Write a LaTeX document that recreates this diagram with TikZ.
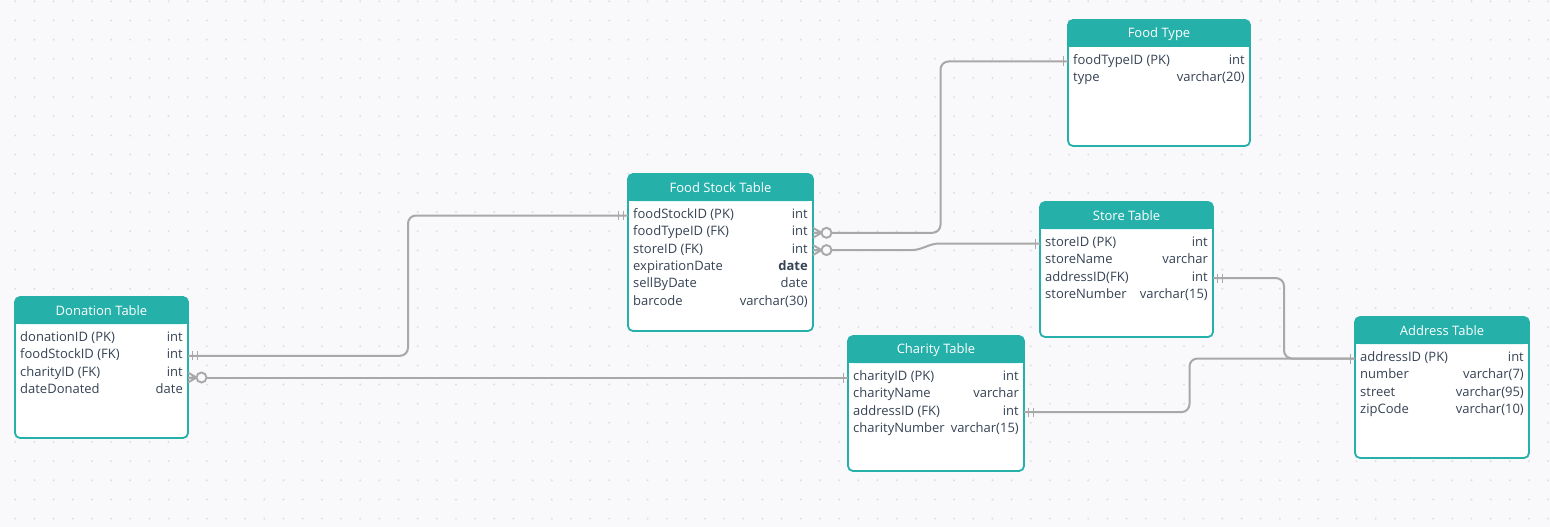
\documentclass[tikz,border=0pt]{standalone}
\usepackage{fontspec}
\setmainfont{Open Sans}
\usetikzlibrary{calc}
\definecolor{erteal}{HTML}{25B0AA}
\definecolor{linkgray}{HTML}{A8A8A8}
\definecolor{bgcol}{HTML}{F9F9FB}
\definecolor{dotcol}{HTML}{DEDEE4}
\definecolor{fieldcol}{HTML}{364354}
\tikzset{
	tablebox/.style={rectangle, inner sep=0pt, outer sep=0pt, anchor=north west},
	tableline/.style={draw=erteal, line width=1.8pt, rounded corners=5pt},
	headtext/.style={text=white, font=\fontsize{13}{15}\selectfont, inner sep=0pt},
	fieldtext/.style={text=fieldcol, font=\fontsize{13}{15}\selectfont, inner sep=0pt, text height=9pt, text depth=3pt},
	link/.style={draw=linkgray, line width=2pt, rounded corners=8pt},
	tick/.style={draw=linkgray, line width=1.9pt},
}
\newcommand{\ertable}[7]{%
	\node[tablebox, minimum width=#4pt, minimum height=#5pt] (#1) at (#2,#3) {};
	\fill[white, rounded corners=5pt] (#1.north west) rectangle (#1.south east);
	\fill[erteal, rounded corners=5pt] (#1.north west) rectangle ([yshift=-27pt]#1.north east);
	\fill[erteal] ([yshift=-12pt]#1.north west) rectangle ([yshift=-27pt]#1.north east);
	\draw[tableline] (#1.north west) rectangle (#1.south east);
	\node[headtext] (#1-head) at ([yshift=-14pt]#1.north) {#6};
	\foreach \fld/\typ [count=\i] in {#7} {
		\node[fieldtext, anchor=west] (#1-\i) at ([xshift=5pt, yshift={-41.5pt-(\i-1)*17.3pt}]#1.north west) {\fld};
		\node[fieldtext, anchor=east] (#1-\i-type) at ([xshift=-5pt, yshift={-41.5pt-(\i-1)*17.3pt}]#1.north east) {\typ};
	}
}
\newcommand{\barone}[2]{\begin{scope}[shift={(#1)}, xscale=#2] \draw[tick] (4.5,-5) -- (4.5,5); \end{scope}}
\newcommand{\bartwo}[2]{\begin{scope}[shift={(#1)}, xscale=#2] \draw[tick] (4.5,-4.5) -- (4.5,4.5) (9.5,-4.5) -- (9.5,4.5); \end{scope}}
\newcommand{\zeromany}[2]{\begin{scope}[shift={(#1)}, xscale=#2] \draw[tick] (0,-5) -- (8.5,0) -- (0,5) (0,0) -- (8.5,0); \draw[tick, fill=bgcol] (13.5,0) circle (5); \end{scope}}
\begin{document}
\begin{tikzpicture}[x=1pt, y=-1pt]
	\useasboundingbox (0,0) rectangle (1550,527);
	\fill[bgcol] (0,0) rectangle (1550,527);
	\foreach \i in {0,...,80}
		\foreach \j in {0,...,27}
			\fill[dotcol] (15.3+\i*19.16, 1.3+\j*19.16) circle (1.1);

	\ertable{ft}{1068}{20}{182}{126}{Food Type}{foodTypeID (PK)/int, type/varchar(20)}
	\ertable{fs}{628}{174}{185}{157}{Food Stock Table}{foodStockID (PK)/int, foodTypeID (FK)/int, storeID (FK)/int, expirationDate/\textbf{date}, sellByDate/date, barcode/varchar(30)}
	\ertable{st}{1040}{202}{173}{135}{Store Table}{storeID (PK)/int, storeName/varchar, addressID(FK)/int, storeNumber/varchar(15)}
	\ertable{dt}{15}{297}{173}{141}{Donation Table}{donationID (PK)/int, foodStockID (FK)/int, charityID (FK)/int, dateDonated/date}
	\ertable{ch}{848}{336}{176}{135}{Charity Table}{charityID (PK)/int, charityName/varchar, addressID (FK)/int, charityNumber/varchar(15)}
	\ertable{ad}{1355}{317}{174}{141}{Address Table}{addressID (PK)/int, number/varchar(7), street/varchar(95), zipCode/varchar(10)}

	\coordinate (dt-fs) at (dt.east |- dt-2);
	\coordinate (fs-dt) at (fs.west |- fs-1);
	\coordinate (dt-ch) at (dt.east |- ch-1);
	\coordinate (ch-dt) at (ch.west |- ch-1);
	\coordinate (fs-ft) at (fs.east |- fs-2);
	\coordinate (ft-fs) at (ft.west |- ft-1);
	\coordinate (fs-st) at (fs.east |- fs-3);
	\coordinate (st-fs) at (st.west |- st-1);
	\coordinate (st-ad) at (st.east |- st-3);
	\coordinate (ad-st) at (ad.west |- ad-1);
	\coordinate (ch-ad) at (ch.east |- ch-3);
	\coordinate (mid-st) at ($(fs-st)!.5!(st-fs)$);

	\draw[link] (dt-fs) -| ($(dt-fs)!.5!(fs-dt)$) |- (fs-dt);
	\draw[link] (dt-ch) -- (ch-dt);
	\draw[link] (fs-ft) -| ($(fs-ft)!.5!(ft-fs)$) |- (ft-fs);
	\draw[link, rounded corners=5pt] (fs-st) -- ($(mid-st |- fs-st)+(-10,0)$) -- ($(mid-st |- st-fs)+(8,0)$) -- (st-fs);
	\draw[link] (st-ad) -| ($(st-ad)!.5!(ad-st)$) |- (ad-st);
	\draw[link] (ch-ad) -| ($(ch-ad)!.5!(ad-st)$) |- (ad-st);

	\bartwo{dt-fs}{1} \bartwo{fs-dt}{-1}
	\zeromany{dt-ch}{1} \barone{ch-dt}{-1}
	\zeromany{fs-ft}{1} \barone{ft-fs}{-1}
	\zeromany{fs-st}{1} \barone{st-fs}{-1}
	\bartwo{st-ad}{1} \barone{ad-st}{-1}
	\bartwo{ch-ad}{1}
\end{tikzpicture}
\end{document}
